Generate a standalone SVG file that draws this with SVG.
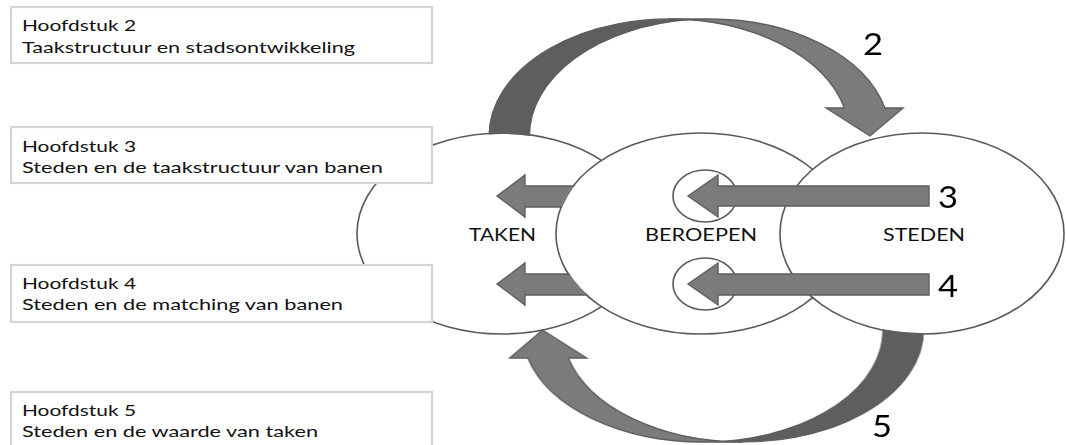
<svg xmlns="http://www.w3.org/2000/svg" width="1066" height="445" viewBox="0 0 1066 445">
<style>
.box{fill:#fff;stroke:#d5d5d5;stroke-width:2.2}
.bt{font-family:"Lato","Liberation Sans",sans-serif;font-size:15px;fill:#111}
.ell{fill:#fff;stroke:#5a5a5a;stroke-width:1.6}
.lbl{font-family:"Lato","Liberation Sans",sans-serif;font-size:17.5px;fill:#111}
.num{font-family:"Lato","Liberation Sans",sans-serif;font-size:31px;fill:#000}
.arr{fill:#7b7b7b;stroke:#5e5e5e;stroke-width:1.4;stroke-linejoin:miter}
.back{fill:#5e5e5e;stroke:#5e5e5e;stroke-width:1.2}
</style>
<defs>
<mask id="mOuter" maskUnits="userSpaceOnUse" x="0" y="0" width="1066" height="445">
<rect x="0" y="0" width="1066" height="445" fill="#fff"/>
<ellipse cx="502" cy="233.5" rx="144" ry="99.5" fill="#000"/>
<ellipse cx="922" cy="233.5" rx="141" ry="99.5" fill="#000"/>
</mask>
<mask id="mMid" maskUnits="userSpaceOnUse" x="0" y="0" width="1066" height="445">
<rect x="0" y="0" width="1066" height="445" fill="#fff"/>
<ellipse cx="701" cy="233.5" rx="144" ry="99.5" fill="#000"/>
</mask>
<g id="curved">
<path class="back" d="M489,136 A180.4,117 0 0,1 689.65,19.7 A180.4,117 0 0,0 529.5,136 Z"/>
<path class="arr" d="M870,136 L826.1,108 L844.4,108 A180.4,117 0 0,0 669.4,19 L709.9,19 A180.4,117 0 0,1 884.9,108 L903.1,108 Z"/>
</g>
<g id="curved5">
<path class="back" d="M489,133 A180.4,112 0 0,1 689.65,21.7 A180.4,112 0 0,0 529.5,133 Z"/>
<path class="arr" d="M870,133 L825.8,105 L844.1,105 A180.4,112 0 0,0 669.4,21 L709.9,21 A180.4,112 0 0,1 884.6,105 L902.8,105 Z"/>
</g>
</defs>

<g id="node-taken">
<ellipse class="ell" cx="502" cy="233.5" rx="145" ry="100.5"/>
<text class="lbl" x="469" y="241" textLength="67" lengthAdjust="spacingAndGlyphs">TAKEN</text>
</g>

<g id="box-h2">
<rect class="box" x="11" y="7" width="421" height="56"/>
<text class="bt" x="22" y="31" textLength="114" lengthAdjust="spacingAndGlyphs">Hoofdstuk 2</text>
<text class="bt" x="22" y="53" textLength="333" lengthAdjust="spacingAndGlyphs">Taakstructuur en stadsontwikkeling</text>
</g>
<g id="box-h3">
<rect class="box" x="11" y="127" width="421" height="56"/>
<text class="bt" x="22" y="152" textLength="114" lengthAdjust="spacingAndGlyphs">Hoofdstuk 3</text>
<text class="bt" x="22" y="173" textLength="361" lengthAdjust="spacingAndGlyphs">Steden en de taakstructuur van banen</text>
</g>
<g id="box-h4">
<rect class="box" x="11" y="265" width="421" height="57"/>
<text class="bt" x="22" y="289" textLength="114" lengthAdjust="spacingAndGlyphs">Hoofdstuk 4</text>
<text class="bt" x="22" y="310" textLength="321" lengthAdjust="spacingAndGlyphs">Steden en de matching van banen</text>
</g>
<g id="box-h5">
<rect class="box" x="11" y="392" width="421" height="60"/>
<text class="bt" x="22" y="416" textLength="114" lengthAdjust="spacingAndGlyphs">Hoofdstuk 5</text>
<text class="bt" x="22" y="437" textLength="296" lengthAdjust="spacingAndGlyphs">Steden en de waarde van taken</text>
</g>

<g id="node-beroepen">
<ellipse class="ell" cx="701" cy="233.5" rx="145" ry="100.5"/>
<ellipse class="ell" cx="705" cy="196" rx="32" ry="26"/>
<ellipse class="ell" cx="705" cy="284" rx="32" ry="26"/>
<text class="lbl" x="645" y="241" textLength="112" lengthAdjust="spacingAndGlyphs">BEROEPEN</text>
</g>

<g id="node-steden">
<ellipse class="ell" cx="922" cy="233.5" rx="142" ry="100.5"/>
<text class="lbl" x="883" y="241" textLength="82" lengthAdjust="spacingAndGlyphs">STEDEN</text>
</g>

<g id="connectors">
<g mask="url(#mMid)">
<path class="arr" d="M497,196 L525,175 L525,186 L610,186 L610,207 L525,207 L525,217 Z"/>
<path class="arr" d="M497,284 L525,263 L525,274 L610,274 L610,295 L525,295 L525,305 Z"/>
</g>
<path class="arr" d="M688,196 L718,175 L718,186 L929,186 L929,206 L718,206 L718,217 Z"/>
<path class="arr" d="M688,284 L718,263 L718,274 L929,274 L929,295 L718,295 L718,305 Z"/>
<g mask="url(#mOuter)">
<use href="#curved"/>
<use href="#curved5" transform="rotate(180 706.25 231.5)"/>
</g>
<text class="num" x="863" y="55" textLength="20" lengthAdjust="spacingAndGlyphs">2</text>
<text class="num" x="938" y="208" textLength="20" lengthAdjust="spacingAndGlyphs">3</text>
<text class="num" x="938" y="297" textLength="20" lengthAdjust="spacingAndGlyphs">4</text>
<text class="num" x="872" y="437" textLength="20" lengthAdjust="spacingAndGlyphs">5</text>
</g>
</svg>
